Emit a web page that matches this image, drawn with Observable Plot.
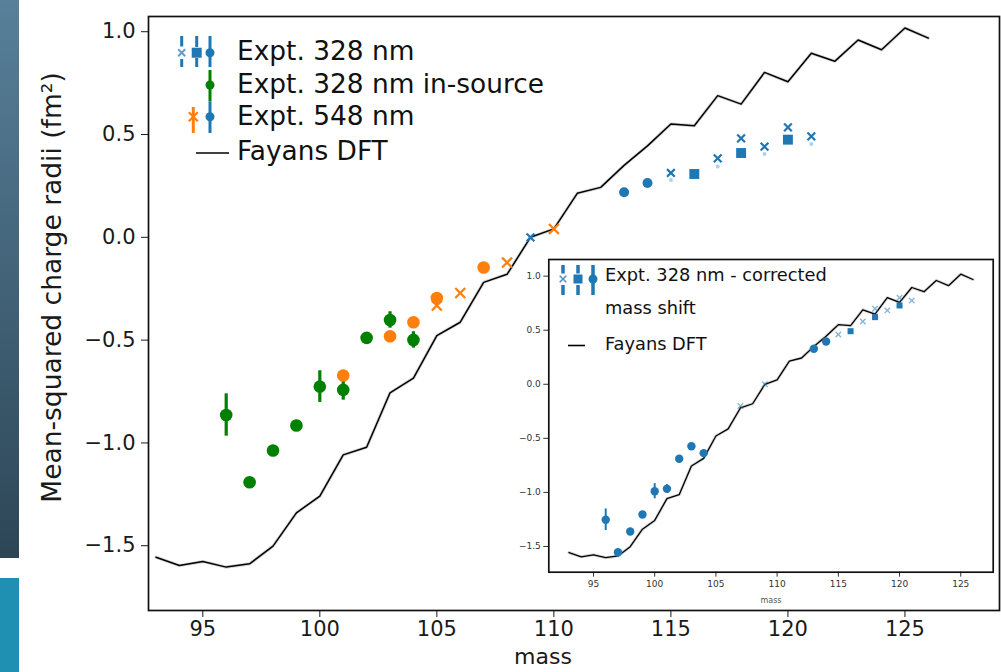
<!DOCTYPE html>
<html><head><meta charset="utf-8">
<script src="https://cdn.jsdelivr.net/npm/d3@7"></script>
<script src="https://cdn.jsdelivr.net/npm/@observablehq/plot@0.6"></script>
<style>
body{margin:0;background:#fff;}
#wrap{position:relative;width:1001px;height:672px;overflow:hidden;background:#fff;font-family:"DejaVu Sans",sans-serif;}
#wrap svg{position:absolute;max-width:none;}
#strip1{position:absolute;left:0;top:0;width:19px;height:558px;background:linear-gradient(#58809a,#2d4656);}
#strip2{position:absolute;left:0;top:578px;width:19px;height:94px;background:#1f8fb2;}
</style></head><body><div id="wrap"><div id="strip1"></div><div id="strip2"></div></div>
<script>
// ---------- data ----------
const xTicks = [95, 100, 105, 110, 115, 120, 125];
const yTicks = [-1.5, -1.0, -0.5, 0.0, 0.5, 1.0];

const dftMass = [93,94,95,96,97,98,99,100,101,102,103,104,105,106,107,108,109,110,111,112,113,114,115,116,117,118,119,120,121,122,123,124,125,126];
const dftVal  = [-1.556,-1.596,-1.577,-1.604,-1.588,-1.502,-1.340,-1.259,-1.058,-1.021,-0.756,-0.685,-0.478,-0.413,-0.219,-0.180,0.000,0.041,0.214,0.243,0.350,0.445,0.551,0.543,0.689,0.648,0.802,0.757,0.895,0.856,0.960,0.912,1.018,0.969];

// Expt. 328 nm in-source (green)
const greenMass = [96,97,98,99,100,101,102,103,104];
const greenVal  = [-0.864,-1.191,-1.037,-0.915,-0.726,-0.742,-0.489,-0.402,-0.499];
const greenErr  = [0.103,0.022,0.018,0.015,0.077,0.050,0.022,0.040,0.040];

// Expt. 548 nm (orange)
const orangeCircMass = [101,103,104,105,107];
const orangeCircVal  = [-0.672,-0.481,-0.413,-0.295,-0.147];
const orangeXMass = [105,106,108,110];
const orangeXVal  = [-0.332,-0.271,-0.123,0.041];

// Expt. 328 nm (blue)
const blueCircMass = [113,114];
const blueCircVal  = [0.219,0.264];
const blueSqMass = [116,118,120];
const blueSqVal  = [0.308,0.410,0.475];
const blueXMass = [109,115,117,118,119,120,121];
const blueXVal  = [0.000,0.313,0.384,0.481,0.441,0.535,0.491];
const blueFaintMass = [115,117,119,121];
const blueFaintVal  = [0.279,0.345,0.405,0.454];

// Inset: Expt. 328 nm - corrected mass shift
const insCircMass = [96,97,98,99,100,101,102,103,104,113,114];
const insCircVal  = [-1.253,-1.553,-1.362,-1.205,-0.989,-0.967,-0.689,-0.573,-0.637,0.328,0.396];
const insCircErr  = [0.10,0.02,0.02,0.02,0.07,0.04,0.02,0.02,0.02,0.01,0.01];
const insSqMass = [116,118,120];
const insSqVal  = [0.491,0.621,0.729];
const insXMass = [107,109,115,117,118,119,120,121];
const insXVal  = [-0.200,0.000,0.461,0.581,0.698,0.683,0.800,0.775];

// ---------- helpers ----------
const zip = (m, v, e) => m.map((d, i) => ({mass: d, val: v[i], err: e ? e[i] : 0}));
const dft = zip(dftMass, dftVal);
const green = zip(greenMass, greenVal, greenErr);
const oCirc = zip(orangeCircMass, orangeCircVal);
const oX = zip(orangeXMass, orangeXVal);
const bCirc = zip(blueCircMass, blueCircVal);
const bSq = zip(blueSqMass, blueSqVal);
const bX = zip(blueXMass, blueXVal);
const bFaint = zip(blueFaintMass, blueFaintVal);
const iCirc = zip(insCircMass, insCircVal, insCircErr);
const iSq = zip(insSqMass, insSqVal);
const iX = zip(insXMass, insXVal);

const BLUE = "#1f77b4", ORANGE = "#ff7f0e", GREEN = "#008000";
const wrap = document.getElementById("wrap");

// ---------- main chart ----------
const main = Plot.plot({
  width: 1001, height: 672,
  marginLeft: 148, marginRight: 2, marginTop: 16, marginBottom: 62,
  x: {domain: [92.68, 129.04]},
  y: {domain: [-1.815, 1.074]},
  style: {fontFamily: "DejaVu Sans", fontSize: "21px", color: "#1a1a1a", background: "transparent", overflow: "visible"},
  marks: [
    Plot.axisX(xTicks, {tickSize: 7, tickPadding: 4, label: null, fontSize: 21}),
    Plot.axisY(yTicks, {tickSize: 7, tickPadding: 6, tickFormat: d3.format(".1f"), label: null, fontSize: 21}),
    Plot.line(dft, {x: "mass", y: "val", stroke: "#888", strokeWidth: 3.2, strokeOpacity: 0.35}),
    Plot.line(dft, {x: "mass", y: "val", stroke: "black", strokeWidth: 1.5}),
    Plot.ruleX(green, {x: "mass", y1: d => d.val - d.err, y2: d => d.val + d.err, stroke: GREEN, strokeWidth: 3.2}),
    Plot.dot(green, {x: "mass", y: "val", r: 6.3, fill: GREEN, symbol: "circle"}),
    Plot.dot(oX, {x: "mass", y: "val", r: 4.6, stroke: ORANGE, strokeWidth: 2.2, symbol: "times"}),
    Plot.dot(oCirc, {x: "mass", y: "val", r: 6.3, fill: ORANGE, symbol: "circle"}),
    Plot.dot(bFaint, {x: "mass", y: "val", r: 2, fill: BLUE, fillOpacity: 0.35, symbol: "circle"}),
    Plot.dot(bCirc, {x: "mass", y: "val", r: 5, fill: BLUE, symbol: "circle"}),
    Plot.dot(bSq, {x: "mass", y: "val", r: 5.6, fill: BLUE, symbol: "square"}),
    Plot.dot(bX, {x: "mass", y: "val", r: 3.6, stroke: BLUE, strokeWidth: 2.2, symbol: "times"}),
    Plot.frame({stroke: "#111", strokeWidth: 1.7}),
    Plot.text(["mass"], {text: d => d, frameAnchor: "bottom", textAnchor: "middle", lineAnchor: "middle", dx: -31, dy: 46, fontSize: 22, fill: "#1a1a1a"}),
    Plot.text(["Mean-squared charge radii (fm²)"], {text: d => d, frameAnchor: "left", textAnchor: "middle", lineAnchor: "middle", dx: -96, dy: -26, rotate: -90, fontSize: 26.5, fill: "#1a1a1a"})
  ]
});
main.style.left = "0px"; main.style.top = "0px";
wrap.appendChild(main);

// ---------- inset ----------
const inset = Plot.plot({
  width: 500, height: 365,
  marginLeft: 48.3, marginRight: 7.3, marginTop: 9, marginBottom: 43.3,
  x: {domain: [91.35, 127.65]},
  y: {domain: [-1.738, 1.154]},
  style: {fontFamily: "DejaVu Sans", fontSize: "9px", color: "#333", background: "transparent", overflow: "visible"},
  marks: [
    Plot.frame({fill: "white", stroke: "none"}),
    Plot.axisX(xTicks, {tickSize: 5, tickPadding: 3, label: null, fontSize: 9}),
    Plot.axisY(yTicks, {tickSize: 5, tickPadding: 3, tickFormat: d3.format(".1f"), label: null, fontSize: 9}),
    Plot.line(dft, {x: "mass", y: "val", stroke: "#888", strokeWidth: 3, strokeOpacity: 0.35}),
    Plot.line(dft, {x: "mass", y: "val", stroke: "black", strokeWidth: 1.3}),
    Plot.ruleX(iCirc, {x: "mass", y1: d => d.val - d.err, y2: d => d.val + d.err, stroke: BLUE, strokeWidth: 2}),
    Plot.dot(iCirc, {x: "mass", y: "val", r: 4.2, fill: BLUE, symbol: "circle"}),
    Plot.dot(iSq, {x: "mass", y: "val", r: 3.4, fill: BLUE, symbol: "square"}),
    Plot.dot(iX, {x: "mass", y: "val", r: 2.6, stroke: BLUE, strokeOpacity: 0.55, strokeWidth: 1.3, symbol: "times"}),
    Plot.frame({stroke: "#111", strokeWidth: 1.7}),
    Plot.text(["mass"], {text: d => d, frameAnchor: "bottom", textAnchor: "middle", lineAnchor: "middle", dy: 28, fontSize: 8, fill: "#555"})
  ]
});
inset.style.left = "500px"; inset.style.top = "250px";
wrap.appendChild(inset);

// ---------- legends (overlay) ----------
const ov = d3.select(wrap).append("svg")
  .attr("width", 1001).attr("height", 672)
  .style("left", "0px").style("top", "0px")
  .attr("font-family", "DejaVu Sans");

function bar(x, y1, y2, color, w) {
  ov.append("line").attr("x1", x).attr("x2", x).attr("y1", y1).attr("y2", y2)
    .attr("stroke", color).attr("stroke-width", w);
}
function cross(x, y, s, color, w, op = 1) {
  ov.append("path").attr("d", `M${x - s},${y - s}L${x + s},${y + s}M${x - s},${y + s}L${x + s},${y - s}`)
    .attr("stroke", color).attr("stroke-width", w).attr("stroke-opacity", op).attr("fill", "none");
}
function circ(x, y, r, color) { ov.append("circle").attr("cx", x).attr("cy", y).attr("r", r).attr("fill", color); }
function sq(x, y, s, color) { ov.append("rect").attr("x", x - s / 2).attr("y", y - s / 2).attr("width", s).attr("height", s).attr("fill", color); }
function label(x, y, t, size) {
  ov.append("text").attr("x", x).attr("y", y).attr("dy", "0.35em").attr("font-size", size).attr("fill", "#111").text(t);
}

const mainLegend = ["Expt. 328 nm", "Expt. 328 nm in-source", "Expt. 548 nm", "Fayans DFT"];
const insetLegend = ["Expt. 328 nm - corrected", "mass shift", "Fayans DFT"];

// main legend glyphs
bar(181.7, 36, 46.5, BLUE, 3); bar(181.7, 59, 67, BLUE, 3); cross(181.7, 52.7, 3.5, BLUE, 2, 0.7);
bar(196.7, 36, 47, BLUE, 3); bar(196.7, 58, 67, BLUE, 3); sq(196.7, 52.7, 10, BLUE);
bar(210, 36, 67, BLUE, 3); circ(210, 52.7, 4.5, BLUE);
bar(210, 70, 101.5, GREEN, 3); circ(210, 85, 4.5, GREEN);
bar(210, 101.5, 133, BLUE, 3); circ(210, 116.7, 4.5, BLUE);
bar(193.3, 107, 133, ORANGE, 3); cross(193.3, 116.7, 4.5, ORANGE, 2.2);
ov.append("line").attr("x1", 196).attr("x2", 229).attr("y1", 153).attr("y2", 153).attr("stroke", "black").attr("stroke-width", 1.6);
label(237, 50.5, mainLegend[0], 26.4);
label(237, 84, mainLegend[1], 26.4);
label(237, 116, mainLegend[2], 26.4);
label(237, 151, mainLegend[3], 26.4);

// inset legend glyphs
bar(563, 265, 273.5, BLUE, 3.5); bar(563, 285, 295, BLUE, 3.5); cross(563, 279, 3.3, BLUE, 1.6, 0.8);
bar(578, 265, 273.5, BLUE, 3.5); bar(578, 285, 295, BLUE, 3.5); sq(578, 279, 9, BLUE);
bar(593, 265, 295, BLUE, 3.5); circ(593, 279, 4.5, BLUE);
ov.append("line").attr("x1", 568).attr("x2", 585).attr("y1", 345.5).attr("y2", 345.5).attr("stroke", "black").attr("stroke-width", 1.6);
label(605, 275, insetLegend[0], 17.8);
label(605, 308, insetLegend[1], 17.8);
label(605, 344, insetLegend[2], 17.8);
</script></body></html>
